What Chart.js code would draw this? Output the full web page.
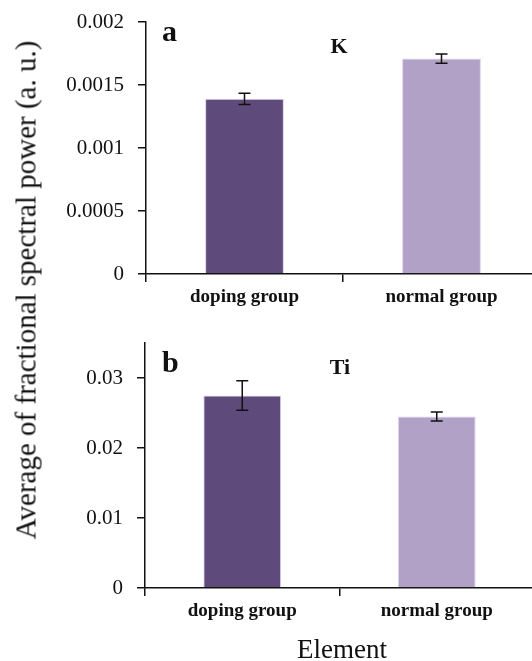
<!DOCTYPE html>
<html>
<head>
<meta charset="utf-8">
<script src="https://cdn.jsdelivr.net/npm/chart.js@4.4.0/dist/chart.umd.min.js"></script>
<style>
html, body { margin: 0; padding: 0; background: #fff; overflow: hidden; }
#wrap { position: relative; width: 532px; height: 661px; overflow: hidden;
        font-family: "Liberation Serif", "Times New Roman", serif; color: #111; }
canvas { position: absolute; left: 0; }
#ytitle { position: absolute; left: 26px; top: 290px; white-space: nowrap; font-size: 29px;
          transform: translate(-50%, -50%) rotate(-90deg); }
#xtitle { position: absolute; left: 342px; top: 636px; transform: translateX(-50%);
          font-size: 27px; line-height: 27px; white-space: nowrap; }
</style>
</head>
<body>
<div id="wrap">
  <canvas id="chartK" width="545" height="330" style="top:0"></canvas>
  <canvas id="chartTi" width="540" height="331" style="top:330px"></canvas>
  <div id="ytitle">Average of fractional spectral power (a. u.)</div>
  <div id="xtitle">Element</div>
</div>
<script>
var groups = ["doping group", "normal group"];
var barColors = ['#5f4b7b', '#b1a1c7'];

// panel a - K
var kValues = [0.00139, 0.00171];
var kErrors = [0.000045, 0.000037];
var kTicks = [0, 0.0005, 0.001, 0.0015, 0.002];

// panel b - Ti
var tiValues = [0.0275, 0.0245];
var tiErrors = [0.0021, 0.00065];
var tiTicks = [0, 0.01, 0.02, 0.03];

var serif = '"Liberation Serif", "Times New Roman", serif';

// draws the little I-shaped error bars on top of each bar
var errorBars = {
    id: 'errorBars',
    afterDatasetsDraw: function(chart) {
        var o = chart.options.plugins.errorBars;
        if (!o) return;
        var meta = chart.getDatasetMeta(0);
        var y = chart.scales.y;
        var vals = chart.data.datasets[0].data;
        var ctx = chart.ctx;
        ctx.save();
        ctx.strokeStyle = '#111';
        ctx.lineWidth = 1.5;
        meta.data.forEach(function(bar, i) {
            var top = y.getPixelForValue(vals[i] + o.errors[i]);
            var bot = y.getPixelForValue(vals[i] - o.errors[i]);
            ctx.beginPath();
            ctx.moveTo(bar.x, top); ctx.lineTo(bar.x, bot);
            ctx.moveTo(bar.x - 6, top); ctx.lineTo(bar.x + 6, top);
            ctx.moveTo(bar.x - 6, bot); ctx.lineTo(bar.x + 6, bot);
            ctx.stroke();
        });
        ctx.restore();
    }
};

// panel letter + element name
var panelText = {
    id: 'panelText',
    afterDraw: function(chart) {
        var o = chart.options.plugins.panelText;
        if (!o) return;
        var ctx = chart.ctx;
        ctx.save();
        ctx.fillStyle = '#111';
        ctx.textBaseline = 'alphabetic';
        ctx.font = 'bold 30px ' + serif;
        ctx.textAlign = 'left';
        ctx.fillText(o.letter, o.letterX, o.letterY);
        ctx.font = 'bold 22px ' + serif;
        ctx.textAlign = 'center';
        ctx.fillText(o.name, o.nameX, o.nameY);
        ctx.restore();
    }
};

function makeChart(id, values, errors, ticks, max, axisW, axisH, pad, txt) {
    return new Chart(document.getElementById(id), {
        type: 'bar',
        data: {
            labels: groups,
            datasets: [{
                data: values,
                backgroundColor: barColors,
                borderColor: 'rgba(215,205,235,0.9)',
                borderWidth: 1,
                barPercentage: 0.4,
                categoryPercentage: 1
            }]
        },
        options: {
            responsive: false,
            animation: false,
            layout: { padding: pad },
            plugins: {
                legend: { display: false },
                tooltip: { enabled: false },
                errorBars: { errors: errors },
                panelText: txt
            },
            scales: {
                x: {
                    afterFit: function(s) { s.height = axisH; },
                    grid: { offset: true, drawOnChartArea: false, tickLength: 8, color: '#111', lineWidth: 1.5 },
                    border: { color: '#111', width: 1.5 },
                    ticks: { color: '#111', padding: 4, font: { family: serif, size: 19, weight: 'bold' } }
                },
                y: {
                    min: 0,
                    max: max,
                    afterFit: function(s) {
                        s.width = axisW;
                        s.paddingTop = 0;
                        s.paddingBottom = 0;
                    },
                    afterBuildTicks: function(s) { s.ticks = ticks.map(function(v) { return { value: v }; }); },
                    grid: { drawOnChartArea: false, tickLength: 8, color: '#111', lineWidth: 1.5 },
                    border: { color: '#111', width: 1.5 },
                    ticks: {
                        color: '#111', padding: 14,
                        font: { family: serif, size: 21 },
                        callback: function(v) { return String(v); }
                    }
                }
            }
        },
        plugins: [errorBars, panelText]
    });
}

makeChart('chartK', kValues, kErrors, kTicks, 0.002, 146, 56,
    { left: 0, top: 22, right: 5, bottom: 0 },
    { letter: 'a', letterX: 162, letterY: 41, name: 'K', nameX: 339, nameY: 53 });

makeChart('chartTi', tiValues, tiErrors, tiTicks, 0.035, 145, 73,
    { left: 0, top: 13, right: 6, bottom: 0 },
    { letter: 'b', letterX: 162, letterY: 42, name: 'Ti', nameX: 340, nameY: 44 });
</script>
</body>
</html>
